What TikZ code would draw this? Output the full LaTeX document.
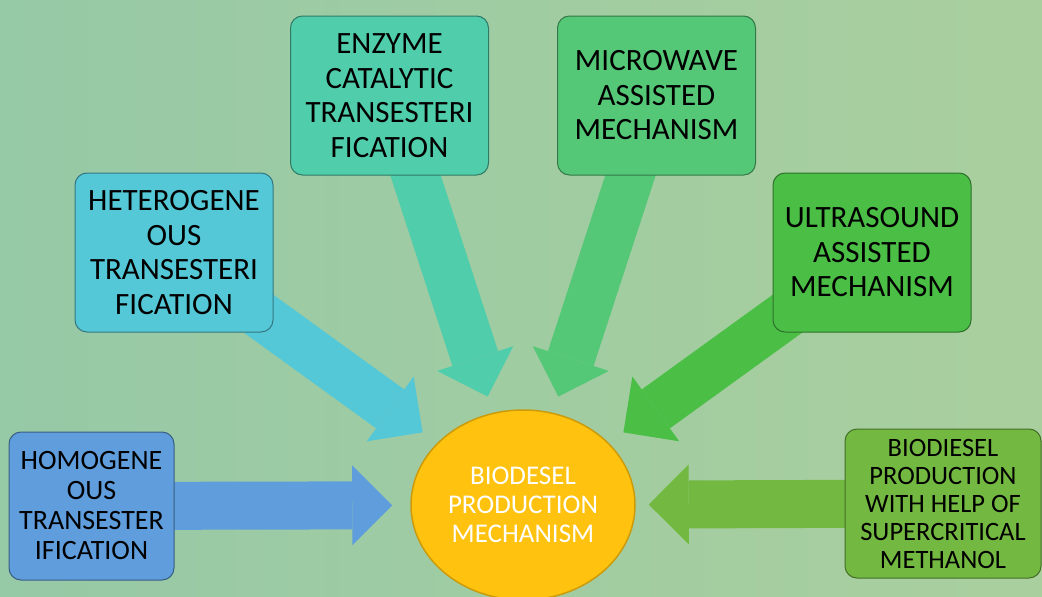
\documentclass[tikz,border=0pt]{standalone}
\usepackage{fontspec}
\setmainfont{Carlito}
\usetikzlibrary{positioning}
\usetikzlibrary{arrows.meta}
\usetikzlibrary{shapes.geometric}
\usetikzlibrary{backgrounds}

\definecolor{bgleft}{RGB}{150,201,166}
\definecolor{bgright}{RGB}{170,207,158}
\definecolor{cHomo}{RGB}{95,157,220}
\definecolor{cHetero}{RGB}{85,200,215}
\definecolor{cEnzyme}{RGB}{80,205,170}
\definecolor{cMicro}{RGB}{85,200,120}
\definecolor{cUltra}{RGB}{75,190,70}
\definecolor{cSuper}{RGB}{115,185,65}
\definecolor{cCore}{RGB}{255,194,14}

\begin{document}
\begin{tikzpicture}[
            x = 1pt, y = -1pt, % one unit per pixel, y pointing down
            > = {Triangle[length=40pt,width=80pt,line width=0pt]}, % block arrow head
            semithick
        ]

        \tikzstyle{method}=[
            rectangle,
            rounded corners = 12pt,
            inner sep = 0pt,
            align = center,
            text = black,
            line width = 1pt,
            minimum width = 198pt,
            minimum height = 159pt,
            font = \fontsize{31}{34.5}\selectfont
        ]
        \tikzstyle{fat}=[->, line width = 48pt]

        \useasboundingbox (0,0) rectangle (1042,597);
        \begin{scope}[on background layer]
        \fill[left color = bgleft, right color = bgright] (0,0) rectangle (1042,597);
        \end{scope}

% centre
        \node[ellipse, fill = cCore, draw = cCore!80!black, line width = 1.5pt,
              minimum width = 224pt, minimum height = 190pt, text = white,
              align = center, font = \fontsize{27}{29}\selectfont]
              (CORE) at (523,505) {BIODESEL\\PRODUCTION\\MECHANISM};

% methods
        \node[method, fill = cHomo, draw = cHomo!60!black, minimum width = 165pt,
              minimum height = 148pt, font = \fontsize{28}{30}\selectfont]
              (HOMO) at (91.5,506) {HOMOGENE\\OUS\\TRANSESTER\\IFICATION};
        \node[method, fill = cHetero, draw = cHetero!60!black]
              (HETERO) at (174,252.5) {HETEROGENE\\OUS\\TRANSESTERI\\FICATION};
        \node[method, fill = cEnzyme, draw = cEnzyme!60!black]
              (ENZYME) at (389.5,95.5) {ENZYME\\CATALYTIC\\TRANSESTERI\\FICATION};
        \node[method, fill = cMicro, draw = cMicro!60!black]
              (MICRO) at (656.5,95.5) {MICROWAVE\\ASSISTED\\MECHANISM};
        \node[method, fill = cUltra, draw = cUltra!60!black]
              (ULTRA) at (872,252.5) {ULTRASOUND\\ASSISTED\\MECHANISM};
        \node[method, fill = cSuper, draw = cSuper!60!black, minimum width = 196pt,
              minimum height = 149pt, font = \fontsize{26.5}{28}\selectfont]
              (SUPER) at (943,503.5) {BIODIESEL\\PRODUCTION\\WITH HELP OF\\SUPERCRITICAL\\METHANOL};

% block arrows, behind the boxes
        \begin{scope}[on background layer]
        \path[fat, draw = cHomo, shorten > = 18pt] (HOMO.center) -- (CORE);
        \path[fat, draw = cHetero, shorten > = 18pt] (HETERO.center) -- (CORE);
        \path[fat, draw = cEnzyme, shorten > = 17pt] (ENZYME.center) -- (CORE);
        \path[fat, draw = cMicro, shorten > = 17pt] (MICRO.center) -- (CORE);
        \path[fat, draw = cUltra, shorten > = 18pt] (ULTRA.center) -- (CORE);
        \path[fat, draw = cSuper, shorten > = 13pt] (SUPER.center) -- (CORE);
        \end{scope}

  \end{tikzpicture}
\end{document}
